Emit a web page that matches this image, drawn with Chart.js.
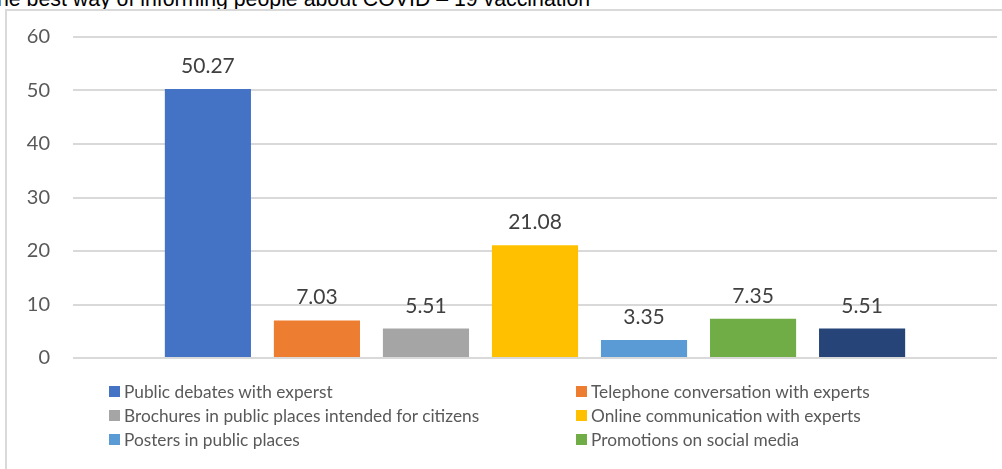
<!DOCTYPE html>
<html>
<head>
<meta charset="utf-8">
<script src="https://cdn.jsdelivr.net/npm/chart.js@4"></script>
<style>
    html, body { margin: 0; padding: 0; background: #ffffff; overflow: hidden; }
    #wrap { position: relative; width: 1002px; height: 469px; overflow: hidden; }
    #title {
        position: absolute; left: -16px; top: -11px; white-space: nowrap;
        font-family: "Liberation Sans", Arial, sans-serif; font-size: 21.3px; line-height: 21px; color: #000000;
    }
    #frame {
        position: absolute; left: 5px; top: 9px; width: 1100px; height: 600px;
        border: 2px solid #d9d9d9; box-sizing: border-box;
    }
    #chart { position: absolute; left: 0; top: 0; }
    #legend {
        position: absolute; left: 109px; top: 379px;
        display: grid; grid-template-columns: 467px 400px; grid-auto-rows: 24px;
        font-family: Lato, "Open Sans", sans-serif; font-size: 17.3px; color: #595959;
    }
    .item { display: flex; align-items: center; white-space: nowrap; }
    .swatch { width: 11px; height: 11px; margin-right: 4px; flex: none; }
</style>
</head>
<body>
<div id="wrap">
    <div id="title">The best way of informing people about COVID – 19 vaccination</div>
    <div id="frame"></div>
    <canvas id="chart" width="1002" height="469"></canvas>
    <div id="legend"></div>
</div>
<script>
// Survey answers, percent of respondents
const methods = [
    'Public debates with experst',
    'Telephone conversation with experts',
    'Brochures in public places intended for citizens',
    'Online communication with experts',
    'Posters in public places',
    'Promotions on social media',
    'Other'
];
const shares = [50.27, 7.03, 5.51, 21.08, 3.35, 7.35, 5.51];
const colors = ['#4472C4', '#ED7D31', '#A5A5A5', '#FFC000', '#5B9BD5', '#70AD47', '#264478'];
const yTicks = [0, 10, 20, 30, 40, 50, 60];
const legendCount = 6;  // only the first six entries fit in the legend box

// Value labels above each bar
const valueLabels = {
    id: 'valueLabels',
    afterDatasetsDraw(chart) {
        const ctx = chart.ctx;
        ctx.save();
        ctx.font = '21px Lato, "Open Sans", sans-serif';
        ctx.fillStyle = '#404040';
        ctx.textAlign = 'center';
        ctx.textBaseline = 'alphabetic';
        chart.data.datasets.forEach((ds, i) => {
            const bar = chart.getDatasetMeta(i).data[0];
            ctx.fillText(ds.data[0].toFixed(2), bar.x, bar.y - 16);
        });
        ctx.restore();
    }
};

const chart = new Chart(document.getElementById('chart'), {
    type: 'bar',
    data: {
        labels: [''],
        datasets: methods.map((name, i) => ({
            label: name,
            data: [shares[i]],
            backgroundColor: colors[i],
            borderWidth: 0
        }))
    },
    options: {
        responsive: false,
        animation: false,
        categoryPercentage: 0.826,
        barPercentage: 0.79,
        layout: { padding: { left: 0, right: 5, top: 37, bottom: 111 } },
        plugins: {
            legend: { display: false },
            tooltip: { enabled: false }
        },
        scales: {
            x: { display: false },
            y: {
                min: yTicks[0],
                max: yTicks[yTicks.length - 1],
                afterBuildTicks: scale => { scale.ticks = yTicks.map(v => ({ value: v })); },
                afterFit: scale => { scale.width = 73; },
                border: { display: false },
                grid: { color: '#d9d9d9', lineWidth: 2, drawTicks: false },
                ticks: {
                    padding: 23,
                    color: '#595959',
                    font: { family: 'Lato, "Open Sans", sans-serif', size: 20 }
                }
            }
        }
    },
    plugins: [valueLabels]
});

// Legend in two columns, built from the chart datasets
const legendEl = document.getElementById('legend');
chart.data.datasets.slice(0, legendCount).forEach(ds => {
    const item = document.createElement('div');
    item.className = 'item';
    const sw = document.createElement('span');
    sw.className = 'swatch';
    sw.style.background = ds.backgroundColor;
    const txt = document.createElement('span');
    txt.textContent = ds.label;
    item.appendChild(sw);
    item.appendChild(txt);
    legendEl.appendChild(item);
});
</script>
</body>
</html>
